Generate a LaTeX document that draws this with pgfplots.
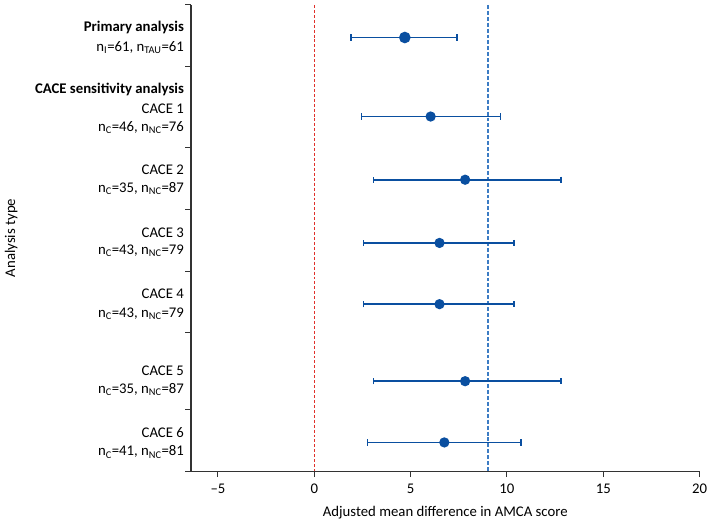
\documentclass[border=0pt]{standalone}
\usepackage{fontspec}
\setmainfont{Carlito}
\usepackage{pgfplots}
\pgfplotsset{compat=1.18}
\definecolor{ebar}{HTML}{0A4FA0}
\definecolor{nullred}{HTML}{E0302A}
\definecolor{mcidblue}{HTML}{3C7CC4}

% estimates (x) with CI half-widths; y is the row position (px from top)
\pgfplotstableread{
x     y    em    ep
6.04  113  3.59  3.63
7.83  177  4.76  4.96
6.50  241  3.94  3.88
6.50  303  3.94  3.88
7.83  381  4.76  4.96
6.75  443  3.99  3.99
}\cace

\begin{document}
\begin{tikzpicture}
\fontsize{15}{17}\selectfont
\begin{axis}[
    scale only axis,
    width=515bp, height=472bp,
    xmin=-6.4, xmax=20,
    ymin=0, ymax=472,
    y dir=reverse,
    axis x line*=bottom,
    axis y line*=left,
    axis line style={line width=1.1pt, black!80},
    xtick={-5,0,5,10,15,20},
    xticklabels={–5,0,5,10,15,20},
    ytick={0,62,144,207,270,332,410,472},
    yticklabels={},
    tick align=outside,
    major tick length=6bp,
    tick style={line width=1.1pt, black!80},
    xticklabel style={font=\fontsize{15}{17}\selectfont, yshift=-2bp},
    xlabel={Adjusted mean difference in AMCA score},
    xlabel style={font=\fontsize{15}{17}\selectfont, yshift=-2bp},
    clip=false,
]
\addplot[nullred, dash pattern=on 3bp off 2bp, line width=1.1pt] coordinates {(0,0) (0,472)};
\addplot[mcidblue, dash pattern=on 4bp off 2bp, line width=1.8pt] coordinates {(9,0) (9,472)};

\addplot[ebar, only marks, mark=*, mark size=5bp, line width=1.7pt,
    error bars/.cd, x dir=both, x explicit, error mark=|,
    error bar style={line width=1.7pt},
    error mark options={line width=1.7pt, mark size=3.2bp}]
    coordinates {(4.7,33) -= (2.8,0) += (2.7,0)};

\addplot[ebar, only marks, mark=*, mark size=4.3bp, line width=1.7pt,
    error bars/.cd, x dir=both, x explicit, error mark=|,
    error bar style={line width=1.7pt},
    error mark options={line width=1.7pt, mark size=3.2bp}]
    table[x=x, y=y, x error minus=em, x error plus=ep] {\cace};

\node[rotate=90, anchor=center] at ([xshift=-182bp]axis cs:-6.4,236) {Analysis type};

\begin{scope}[every node/.style={anchor=base east, inner sep=0pt}]
\node at ([xshift=-7bp]axis cs:-6.4,26.7) {\bfseries Primary analysis};
\node at ([xshift=-7bp]axis cs:-6.4,46.7) {n\textsubscript{I}=61, n\textsubscript{TAU}=61};
\node at ([xshift=-7bp]axis cs:-6.4,90) {\bfseries CACE sensitivity analysis};
\node at ([xshift=-7bp]axis cs:-6.4,110) {CACE 1};
\node at ([xshift=-7bp]axis cs:-6.4,128) {n\textsubscript{C}=46, n\textsubscript{NC}=76};
\node at ([xshift=-7bp]axis cs:-6.4,172) {CACE 2};
\node at ([xshift=-7bp]axis cs:-6.4,190) {n\textsubscript{C}=35, n\textsubscript{NC}=87};
\node at ([xshift=-7bp]axis cs:-6.4,235) {CACE 3};
\node at ([xshift=-7bp]axis cs:-6.4,253) {n\textsubscript{C}=43, n\textsubscript{NC}=79};
\node at ([xshift=-7bp]axis cs:-6.4,297.7) {CACE 4};
\node at ([xshift=-7bp]axis cs:-6.4,316.7) {n\textsubscript{C}=43, n\textsubscript{NC}=79};
\node at ([xshift=-7bp]axis cs:-6.4,375) {CACE 5};
\node at ([xshift=-7bp]axis cs:-6.4,393) {n\textsubscript{C}=35, n\textsubscript{NC}=87};
\node at ([xshift=-7bp]axis cs:-6.4,437.7) {CACE 6};
\node at ([xshift=-7bp]axis cs:-6.4,456.7) {n\textsubscript{C}=41, n\textsubscript{NC}=81};
\end{scope}
\end{axis}
\end{tikzpicture}
\end{document}
